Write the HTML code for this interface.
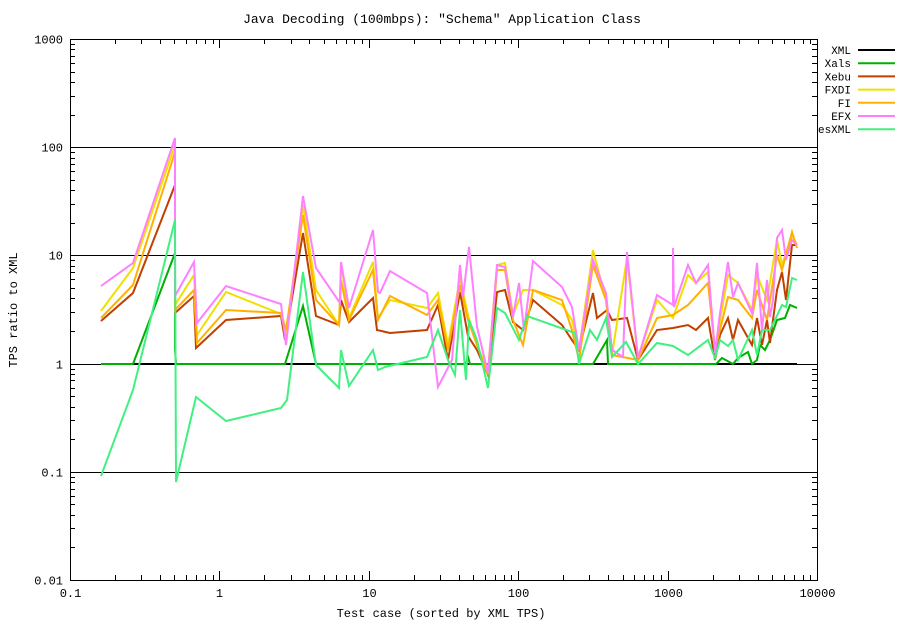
<!DOCTYPE html>
<html><head><meta charset="utf-8"><style>
html,body{margin:0;padding:0;background:#fff;}
svg{display:block;font-family:"Liberation Mono","DejaVu Sans Mono",monospace;font-size:12px;}
</style></head><body>
<svg id="s" width="907" height="621" xmlns="http://www.w3.org/2000/svg">
<rect width="907" height="621" fill="#fff"/>
<text x="442" y="23" text-anchor="middle" font-size="13">Java Decoding (100mbps): "Schema" Application Class</text>
<text x="441" y="617" text-anchor="middle">Test case (sorted by XML TPS)</text>
<text transform="translate(17,310) rotate(-90)" text-anchor="middle">TPS ratio to XML</text>
<g id="grid"></g>
<g id="series" fill="none" stroke-width="2"></g>
<g id="legend" font-size="11"></g>
<rect x="70.5" y="39.5" width="747" height="541" fill="none" stroke="#000"/>
</svg>
<script>
var NS="http://www.w3.org/2000/svg";
function el(p,t,a,txt){var e=document.createElementNS(NS,t);for(var k in a)e.setAttribute(k,a[k]);if(txt!=null)e.textContent=txt;p.appendChild(e);return e;}
var g=document.getElementById('grid');
var X0=70,XD=149.4,Y0=580,YD=108.2;
var ylab=["0.01","0.1","1","10","100","1000"];
for(var i=0;i<6;i++){var y=Math.round(Y0-i*YD)+0.5;
 if(i>0&&i<5) el(g,'line',{x1:70,x2:817,y1:y,y2:y,stroke:'#000'});
 el(g,'text',{x:63,y:y+4,'text-anchor':'end'},ylab[i]);
 if(i<5)for(var m=2;m<10;m++){var yy=Math.round(Y0-(i+Math.log10(m))*YD)+0.5;
  el(g,'line',{x1:70,x2:75,y1:yy,y2:yy,stroke:'#000'});el(g,'line',{x1:812,x2:817,y1:yy,y2:yy,stroke:'#000'});}
 el(g,'line',{x1:70,x2:79,y1:y,y2:y,stroke:'#000'});el(g,'line',{x1:808,x2:817,y1:y,y2:y,stroke:'#000'});
}
var xlab=["0.1","1","10","100","1000","10000"];
for(var i=0;i<6;i++){var x=Math.round(X0+i*XD)+0.5;
 el(g,'text',{x:x,y:597,'text-anchor':'middle'},xlab[i]);
 el(g,'line',{x1:x,x2:x,y1:571,y2:580,stroke:'#000'});el(g,'line',{x1:x,x2:x,y1:39,y2:48,stroke:'#000'});
 if(i<5)for(var m=2;m<10;m++){var xx=Math.round(X0+(i+Math.log10(m))*XD)+0.5;
  el(g,'line',{x1:xx,x2:xx,y1:575,y2:580,stroke:'#000'});el(g,'line',{x1:xx,x2:xx,y1:39,y2:44,stroke:'#000'});}
}
var S=[
["XML","#000000",[[101,364],[797,364]]],
["Xals","#00b000",[[101,364],[133,364],[175,253],[175,349],[176,364],[285,364],[303,306],[316,364],[466,364],[468,357],[470,364],[593,364],[607,340],[608,364],[716,364],[722,358],[733,364],[738,358],[748,352],[752,364],[757,360],[760,345],[765,350],[770,340],[777,320],[785,318],[790,305],[797,308]]],
["Xebu","#c04000",[[101,321],[133,293],[175,185],[175,313],[194,296],[196,348],[226,320],[281,316],[285,340],[303,233],[316,316],[339,325],[341,300],[349,322],[373,298],[377,330],[390,333],[427,330],[438,305],[448,360],[460,292],[468,336],[477,350],[488,375],[497,292],[505,290],[513,322],[523,330],[533,300],[562,325],[572,340],[579,350],[593,293],[597,318],[607,310],[612,320],[627,318],[638,360],[657,330],[673,328],[688,325],[696,330],[708,318],[715,360],[720,335],[728,318],[733,340],[738,320],[752,345],[757,318],[762,345],[767,320],[770,343],[773,320],[777,290],[782,272],[786,300],[792,245],[797,245]]],
["FXDI","#f0e000",[[101,311],[133,268],[175,145],[175,305],[194,275],[197,335],[226,292],[281,314],[286,335],[303,205],[316,290],[339,325],[341,262],[349,318],[373,262],[378,318],[390,300],[427,308],[438,293],[448,345],[460,278],[468,315],[477,345],[488,370],[497,265],[505,263],[513,315],[523,290],[533,290],[562,305],[572,320],[579,350],[593,250],[606,300],[612,355],[627,258],[638,358],[657,300],[673,318],[688,275],[696,283],[708,272],[715,350],[728,275],[738,283],[752,310],[757,275],[767,300],[777,240],[782,265],[792,235],[797,245]]],
["FI","#ffb000",[[101,318],[133,285],[175,152],[175,310],[194,290],[197,343],[226,310],[281,313],[286,330],[303,215],[316,300],[339,325],[341,280],[349,320],[373,270],[378,320],[390,296],[427,315],[438,300],[448,350],[460,285],[468,320],[477,345],[488,375],[497,270],[505,270],[513,320],[523,345],[533,290],[562,300],[572,330],[579,360],[593,265],[606,300],[612,355],[638,360],[657,318],[673,315],[688,305],[708,283],[715,350],[728,297],[738,300],[752,318],[757,290],[767,320],[777,255],[782,270],[792,232],[797,248]]],
["EFX","#ff80ff",[[101,286],[133,263],[175,138],[175,296],[194,262],[197,323],[226,286],[281,304],[286,345],[303,196],[316,268],[340,303],[341,262],[349,308],[373,230],[378,292],[380,293],[390,271],[427,293],[438,387],[452,360],[460,265],[463,297],[469,247],[477,327],[488,373],[497,265],[505,267],[513,317],[519,283],[524,330],[533,261],[562,287],[572,307],[579,350],[593,260],[606,293],[612,350],[623,357],[627,252],[638,358],[657,295],[673,305],[673,248],[674,307],[688,265],[696,283],[708,265],[715,353],[720,313],[728,262],[733,297],[738,283],[752,313],[757,263],[762,330],[767,280],[770,317],[773,300],[777,238],[782,230],[786,260],[792,240],[797,245]]],
["esXML","#40f080",[[101,476],[133,390],[175,220],[176,482],[196,397],[226,421],[281,408],[287,400],[303,272],[316,365],[339,388],[341,350],[349,386],[373,350],[378,370],[385,367],[427,357],[438,330],[448,360],[455,375],[460,310],[466,380],[469,320],[477,340],[488,388],[497,308],[505,313],[519,340],[527,316],[575,333],[579,364],[590,330],[597,340],[606,318],[612,357],[626,342],[638,364],[657,343],[673,346],[688,355],[708,340],[715,358],[720,340],[728,346],[733,340],[738,360],[752,330],[757,355],[762,330],[770,330],[775,320],[782,305],[786,307],[792,278],[797,280]]]
];
var sg=document.getElementById('series'),lg=document.getElementById('legend');
S.forEach(function(s,i){
 el(sg,'polyline',{points:s[2].map(function(p){return p.join(',')}).join(' '),stroke:s[1],'stroke-linejoin':'miter'});
 var y=50+i*13.2;
 el(lg,'text',{x:851,y:y+4,'text-anchor':'end'},s[0]);
 el(lg,'line',{x1:858,x2:895,y1:y,y2:y,stroke:s[1],'stroke-width':2});
});
</script>
</body></html>
